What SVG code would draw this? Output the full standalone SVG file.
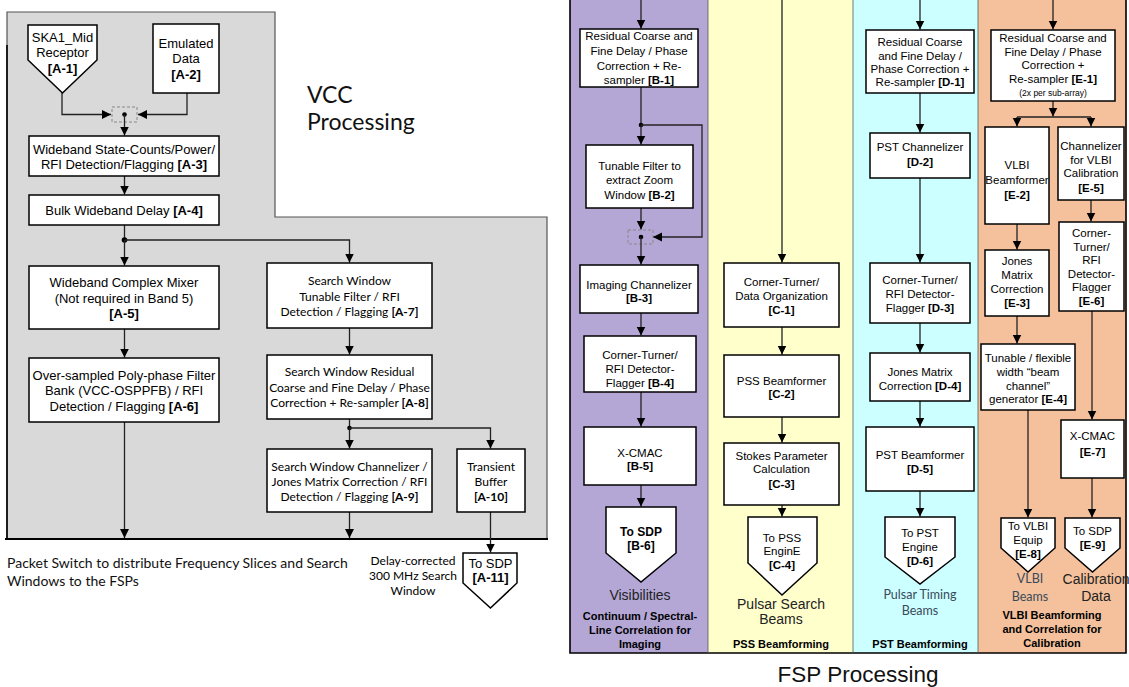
<svg xmlns="http://www.w3.org/2000/svg" width="1129" height="687" viewBox="0 0 1129 687">
<defs>
<marker id="ar" markerUnits="userSpaceOnUse" markerWidth="9" markerHeight="10" viewBox="0 0 10 10" refX="10" refY="5" orient="auto"><path d="M0,0 L10,5 L0,10 z" fill="#000"/></marker>
<style>
.box{fill:#fff;stroke:#000;stroke-width:1.5}
.ln{fill:none;stroke:#222;stroke-width:1.3}
.la{fill:none;stroke:#222;stroke-width:1.3;marker-end:url(#ar)}
.dash{fill:none;stroke:#888;stroke-width:1;stroke-dasharray:3,2}
.dot{fill:#000}
text{font-family:"Liberation Sans",Arial,sans-serif;text-anchor:middle;fill:#000}
.v{font-size:13px}
.f{font-size:11.5px}
.c{font-family:Lato,"Liberation Sans",sans-serif}
.cs{font-family:Lato,"Liberation Sans",sans-serif;font-size:12px}
.b{font-weight:bold}
</style>
</defs>
<!-- VCC background -->
<polygon points="7,12 275,12 275,217 547,217 547,539 7,539" fill="#D9D9D9" stroke="#555" stroke-width="1.2"/>
<line x1="5" y1="539" x2="548" y2="539" stroke="#000" stroke-width="2"/>
<line x1="7" y1="45" x2="7" y2="539" stroke="#000" stroke-width="1.6"/>
<!-- FSP background -->
<rect x="570" y="0" width="138" height="653" fill="#B4A7D6"/>
<rect x="708" y="0" width="145" height="653" fill="#FFFFCC"/>
<rect x="853" y="0" width="125" height="653" fill="#CCFFFF"/>
<rect x="978" y="0" width="148" height="653" fill="#F4C19C"/>
<path d="M570,0 V653 H1126 V0" fill="none" stroke="#000" stroke-width="1.6"/>
<path d="M708,0 V653 M853,0 V653 M978,0 V653" fill="none" stroke="#555" stroke-width="0.8"/>

<text class="c" x="307" y="103" style="font-size:23px;text-anchor:start;fill:#111">VCC</text>
<text class="c" x="307" y="130" style="font-size:23px;text-anchor:start;fill:#111">Processing</text>
<text class="c" x="7" y="568" style="font-size:14px;text-anchor:start;fill:#111">Packet Switch to distribute Frequency Slices and Search</text>
<text class="c" x="7" y="586" style="font-size:14px;text-anchor:start;fill:#111">Windows to the FSPs</text>
<g class="cs" style="fill:#222">
<text class="cs" x="413" y="564.5">Delay-corrected</text>
<text class="cs" x="413" y="579.5">300 MHz Search</text>
<text class="cs" x="413" y="595">Window</text>
</g>
<text x="858" y="682" style="font-size:22.5px;fill:#111">FSP Processing</text>

<!-- connectors -->
<g id="connectors">
<rect class="dash" x="112" y="107" width="25" height="15"/>
<path class="la" d="M62,93 V114.5 H111"/>
<path class="la" d="M187,93 V114.5 H138"/>
<circle class="dot" cx="124.5" cy="114.5" r="2.3"/>
<path class="la" d="M124.5,114.5 V135.5"/>
<path class="la" d="M124.5,176 V194.5"/>
<path class="ln" d="M124.5,225 V240"/>
<circle class="dot" cx="124.5" cy="240" r="2.8"/>
<path class="la" d="M124.5,240 V265.5"/>
<path class="la" d="M124.5,240 H349.5 V262.5"/>
<path class="la" d="M124.5,329 V357.5"/>
<path class="la" d="M124.5,422 V538"/>
<path class="la" d="M349.5,328 V354.5"/>
<path class="ln" d="M349.5,419 V428"/>
<circle class="dot" cx="349.5" cy="428" r="2.3"/>
<path class="la" d="M349.5,428 V448.5"/>
<path class="la" d="M349.5,428 H490.5 V448.5"/>
<path class="la" d="M349.5,512 V538"/>
<path class="la" d="M490.5,512 V552.5"/>

<path class="la" d="M641,0 V28.5"/>
<path class="ln" d="M641,87 V125"/>
<circle class="dot" cx="641" cy="125" r="2.3"/>
<path class="la" d="M641,125 V144.5"/>
<path class="la" d="M641,125 H702 V237 H653"/>
<path class="la" d="M641,208 V229.5"/>
<rect class="dash" x="628" y="230" width="25" height="14"/>
<circle class="dot" cx="641" cy="237" r="2.3"/>
<path class="la" d="M641,237 V264.5"/>
<path class="la" d="M641,313 V335.5"/>
<path class="la" d="M641,392 V426.5"/>
<path class="la" d="M641,485 V506.5"/>

<path class="la" d="M782,0 V262.5"/>
<path class="la" d="M782,327 V354.5"/>
<path class="la" d="M782,417 V442.5"/>
<path class="la" d="M782,505 V516.5"/>

<path class="la" d="M920,0 V29.5"/>
<path class="la" d="M920,93 V132.5"/>
<path class="la" d="M920,178 V262.5"/>
<path class="la" d="M920,323 V352.5"/>
<path class="la" d="M920,401 V426.5"/>
<path class="la" d="M920,491 V516.5"/>

<path class="la" d="M1053,0 V29.5"/>
<path class="la" d="M1053,101 V116.5"/>
<path class="ln" d="M1017,117 H1091"/>
<path class="la" d="M1017,117 V126.5"/>
<path class="la" d="M1091,117 V126.5"/>
<path class="la" d="M1017,224 V249.5"/>
<path class="la" d="M1091,200 V221.5"/>
<path class="la" d="M1017,316 V343.5"/>
<path class="la" d="M1028,410 V517.5"/>
<path class="la" d="M1092,311 V419.5"/>
<path class="la" d="M1092,478 V517.5"/>
</g>

<!-- VCC nodes -->
<g id="A-1"><path class="box" d="M28,25 H97 V60 L62.5,93 L28,60 Z"/>
<text class="v" x="62.5" y="41.5">SKA1_Mid</text><text class="v" x="62.5" y="56.5">Receptor</text><text class="v b" x="62.5" y="72.5">[A-1]</text></g>
<g id="A-2"><rect class="box" x="153" y="24" width="66" height="69"/>
<text class="v" x="186" y="48">Emulated</text><text class="v" x="186" y="63">Data</text><text class="v b" x="186" y="78.5">[A-2]</text></g>
<g id="A-3"><rect class="box" x="29" y="136" width="190" height="40"/>
<text class="v" x="124" y="154">Wideband State-Counts/Power/</text><text class="v" x="124" y="169">RFI Detection/Flagging <tspan class="b">[A-3]</tspan></text></g>
<g id="A-4"><rect class="box" x="29" y="195" width="190" height="30"/>
<text class="v" x="124" y="215">Bulk Wideband Delay <tspan class="b">[A-4]</tspan></text></g>
<g id="A-5"><rect class="box" x="29" y="266" width="190" height="63"/>
<text class="v" x="124" y="287">Wideband Complex Mixer</text><text class="v" x="124" y="303">(Not required in Band 5)</text><text class="v b" x="124" y="318">[A-5]</text></g>
<g id="A-6"><rect class="box" x="29" y="358" width="190" height="64"/>
<text class="v" x="124" y="379.5">Over-sampled Poly-phase Filter</text><text class="v" x="124" y="395">Bank (VCC-OSPPFB) / RFI</text><text class="v" x="124" y="410.5">Detection / Flagging <tspan class="b">[A-6]</tspan></text></g>
<g id="A-7"><rect class="box" x="267" y="263" width="165" height="65"/>
<text class="cs" x="349.5" y="285">Search Window</text><text class="cs" x="349.5" y="300.5">Tunable Filter / RFI</text><text class="cs" x="349.5" y="316">Detection / Flagging <tspan class="b">[A-7]</tspan></text></g>
<g id="A-8"><rect class="box" x="267" y="355" width="165" height="64"/>
<text class="cs" x="349.5" y="376">Search Window Residual</text><text class="cs" x="349.5" y="392">Coarse and Fine Delay / Phase</text><text class="cs" x="349.5" y="407">Correction + Re-sampler <tspan class="b">[A-8]</tspan></text></g>
<g id="A-9"><rect class="box" x="267" y="449" width="165" height="63"/>
<text class="cs" x="349.5" y="471">Search Window Channelizer /</text><text class="cs" x="349.5" y="486">Jones Matrix Correction / RFI</text><text class="cs" x="349.5" y="501">Detection / Flagging <tspan class="b">[A-9]</tspan></text></g>
<g id="A-10"><rect class="box" x="457" y="449" width="68" height="63"/>
<text class="cs" x="491" y="471">Transient</text><text class="cs" x="491" y="486">Buffer</text><text class="cs b" x="491" y="501">[A-10]</text></g>
<g id="A-11"><path class="box" d="M463,553 H517 V583 L490.5,608 L463,583 Z"/>
<text class="v" x="490.5" y="568">To SDP</text><text class="v b" x="490.5" y="582">[A-11]</text></g>

<!-- FSP B -->
<g id="B-1"><rect class="box" x="580" y="29" width="118" height="58"/>
<text class="f" x="639" y="40">Residual Coarse and</text><text class="f" x="639" y="55">Fine Delay / Phase</text><text class="f" x="639" y="70">Correction + Re-</text><text class="f" x="639" y="84">sampler <tspan class="b">[B-1]</tspan></text></g>
<g id="B-2"><rect class="box" x="586" y="145" width="107" height="63"/>
<text class="f" x="639.5" y="170">Tunable Filter to</text><text class="f" x="639.5" y="184">extract Zoom</text><text class="f" x="639.5" y="198.5">Window <tspan class="b">[B-2]</tspan></text></g>
<g id="B-3"><rect class="box" x="580" y="265" width="118" height="48"/>
<text class="f" x="639" y="289">Imaging Channelizer</text><text class="f b" x="639" y="302">[B-3]</text></g>
<g id="B-4"><rect class="box" x="584" y="336" width="112" height="56"/>
<text class="f" x="640" y="358.5">Corner-Turner/</text><text class="f" x="640" y="372.5">RFI Detector-</text><text class="f" x="640" y="387">Flagger <tspan class="b">[B-4]</tspan></text></g>
<g id="B-5"><rect class="box" x="584" y="427" width="112" height="58"/>
<text class="f" x="640" y="456.5">X-CMAC</text><text class="f b" x="640" y="470">[B-5]</text></g>
<g id="B-6"><path class="box" d="M606,507 H676 V553 L641,582 L606,553 Z"/>
<text class="f b" x="641" y="535.5" style="font-size:12px">To SDP</text><text class="f b" x="641" y="549.5" style="font-size:12px">[B-6]</text></g>
<text x="640" y="600" style="font-size:14px;fill:#222">Visibilities</text>
<text class="b" x="640" y="620" style="font-size:11px">Continuum / Spectral-</text>
<text class="b" x="640" y="634" style="font-size:11px">Line Correlation for</text>
<text class="b" x="640" y="648" style="font-size:11px">Imaging</text>

<!-- FSP C -->
<g id="C-1"><rect class="box" x="724" y="263" width="115" height="64"/>
<text class="f" x="781.5" y="286">Corner-Turner/</text><text class="f" x="781.5" y="300">Data Organization</text><text class="f b" x="781.5" y="314">[C-1]</text></g>
<g id="C-2"><rect class="box" x="724" y="355" width="115" height="62"/>
<text class="f" x="781.5" y="385">PSS Beamformer</text><text class="f b" x="781.5" y="398">[C-2]</text></g>
<g id="C-3"><rect class="box" x="724" y="443" width="115" height="62"/>
<text class="f" x="781.5" y="460">Stokes Parameter</text><text class="f" x="781.5" y="473">Calculation</text><text class="f b" x="781.5" y="487.5">[C-3]</text></g>
<g id="C-4"><path class="box" d="M748,517 H817 V563 L782,595 L748,563 Z"/>
<text class="f" x="782" y="541.5">To PSS</text><text class="f" x="782" y="555">EnginE</text><text class="f b" x="782" y="569">[C-4]</text></g>
<text x="781" y="609" style="font-size:14px;fill:#222">Pulsar Search</text>
<text x="781" y="624" style="font-size:14px;fill:#222">Beams</text>
<text class="b" x="781" y="647.5" style="font-size:11px">PSS Beamforming</text>

<!-- FSP D -->
<g id="D-1"><rect class="box" x="866" y="30" width="108" height="63"/>
<text class="f" x="920" y="46">Residual Coarse</text><text class="f" x="920" y="60">and Fine Delay /</text><text class="f" x="920" y="73">Phase Correction +</text><text class="f" x="920" y="86">Re-sampler <tspan class="b">[D-1]</tspan></text></g>
<g id="D-2"><rect class="box" x="870" y="133" width="100" height="45"/>
<text class="f" x="920" y="151">PST Channelizer</text><text class="f b" x="920" y="166">[D-2]</text></g>
<g id="D-3"><rect class="box" x="870" y="263" width="100" height="60"/>
<text class="f" x="920" y="284">Corner-Turner/</text><text class="f" x="920" y="298">RFI Detector-</text><text class="f" x="920" y="312">Flagger <tspan class="b">[D-3]</tspan></text></g>
<g id="D-4"><rect class="box" x="870" y="353" width="100" height="48"/>
<text class="f" x="920" y="376">Jones Matrix</text><text class="f" x="920" y="390">Correction <tspan class="b">[D-4]</tspan></text></g>
<g id="D-5"><rect class="box" x="866" y="427" width="108" height="64"/>
<text class="f" x="920" y="459">PST Beamformer</text><text class="f b" x="920" y="473">[D-5]</text></g>
<g id="D-6"><path class="box" d="M885,517 H955 V557 L920,584 L885,557 Z"/>
<text class="f" x="920" y="537">To PST</text><text class="f" x="920" y="551">Engine</text><text class="f b" x="920" y="565">[D-6]</text></g>
<text class="c" x="920" y="599" style="font-size:12.5px;fill:#3a4a5a">Pulsar Timing</text>
<text class="c" x="920" y="615" style="font-size:12.5px;fill:#3a4a5a">Beams</text>
<text class="b" x="920" y="647.5" style="font-size:11px">PST Beamforming</text>

<!-- FSP E -->
<g id="E-1"><rect class="box" x="991" y="30" width="124" height="71"/>
<text class="f" x="1053" y="42">Residual Coarse and</text><text class="f" x="1053" y="56">Fine Delay / Phase</text><text class="f" x="1053" y="69">Correction +</text><text class="f" x="1053" y="83">Re-sampler <tspan class="b">[E-1]</tspan></text><text x="1053" y="96" style="font-size:8.5px">(2x per sub-array)</text></g>
<g id="E-2"><rect class="box" x="985" y="127" width="64" height="97"/>
<text class="f" x="1017" y="169">VLBI</text><text class="f" x="1017" y="184">Beamformer</text><text class="f b" x="1017" y="199">[E-2]</text></g>
<g id="E-5"><rect class="box" x="1058" y="127" width="66" height="73"/>
<text class="f" x="1091" y="150">Channelizer</text><text class="f" x="1091" y="164">for VLBI</text><text class="f" x="1091" y="177">Calibration</text><text class="f b" x="1091" y="192">[E-5]</text></g>
<g id="E-3"><rect class="box" x="985" y="250" width="64" height="66"/>
<text class="f" x="1017" y="265">Jones</text><text class="f" x="1017" y="279">Matrix</text><text class="f" x="1017" y="293">Correction</text><text class="f b" x="1017" y="307">[E-3]</text></g>
<g id="E-6"><rect class="box" x="1059" y="222" width="65" height="89"/>
<text class="f" x="1091.5" y="237">Corner-</text><text class="f" x="1091.5" y="251">Turner/</text><text class="f" x="1091.5" y="264">RFI</text><text class="f" x="1091.5" y="278">Detector-</text><text class="f" x="1091.5" y="291">Flagger</text><text class="f b" x="1091.5" y="305">[E-6]</text></g>
<g id="E-4"><rect class="box" x="981" y="344" width="94" height="66"/>
<text class="f" x="1028" y="362">Tunable / flexible</text><text class="f" x="1028" y="376">width “beam</text><text class="f" x="1028" y="390">channel”</text><text class="f" x="1028" y="403">generator <tspan class="b">[E-4]</tspan></text></g>
<g id="E-7"><rect class="box" x="1061" y="420" width="63" height="58"/>
<text class="f" x="1092.5" y="440">X-CMAC</text><text class="f b" x="1092.5" y="456">[E-7]</text></g>
<g id="E-8"><path class="box" d="M1001,518 H1055 V548 L1028,572 L1001,548 Z"/>
<text class="f" x="1028" y="530">To VLBI</text><text class="f" x="1028" y="544">Equip</text><text class="f b" x="1028" y="558">[E-8]</text></g>
<g id="E-9"><path class="box" d="M1065,518 H1120 V548 L1092.5,572 L1065,548 Z"/>
<text class="f" x="1092.5" y="535">To SDP</text><text class="f b" x="1092.5" y="549">[E-9]</text></g>
<text class="c" x="1030" y="583" style="font-size:12.5px;fill:#3a4a5a">VLBI</text>
<text class="c" x="1030" y="601" style="font-size:12.5px;fill:#3a4a5a">Beams</text>
<text x="1096" y="584" style="font-size:14px;fill:#222">Calibration</text>
<text x="1096" y="601" style="font-size:14px;fill:#222">Data</text>
<text class="b" x="1052" y="619" style="font-size:11px">VLBI Beamforming</text>
<text class="b" x="1052" y="633" style="font-size:11px">and Correlation for</text>
<text class="b" x="1052" y="647" style="font-size:11px">Calibration</text>
</svg>
